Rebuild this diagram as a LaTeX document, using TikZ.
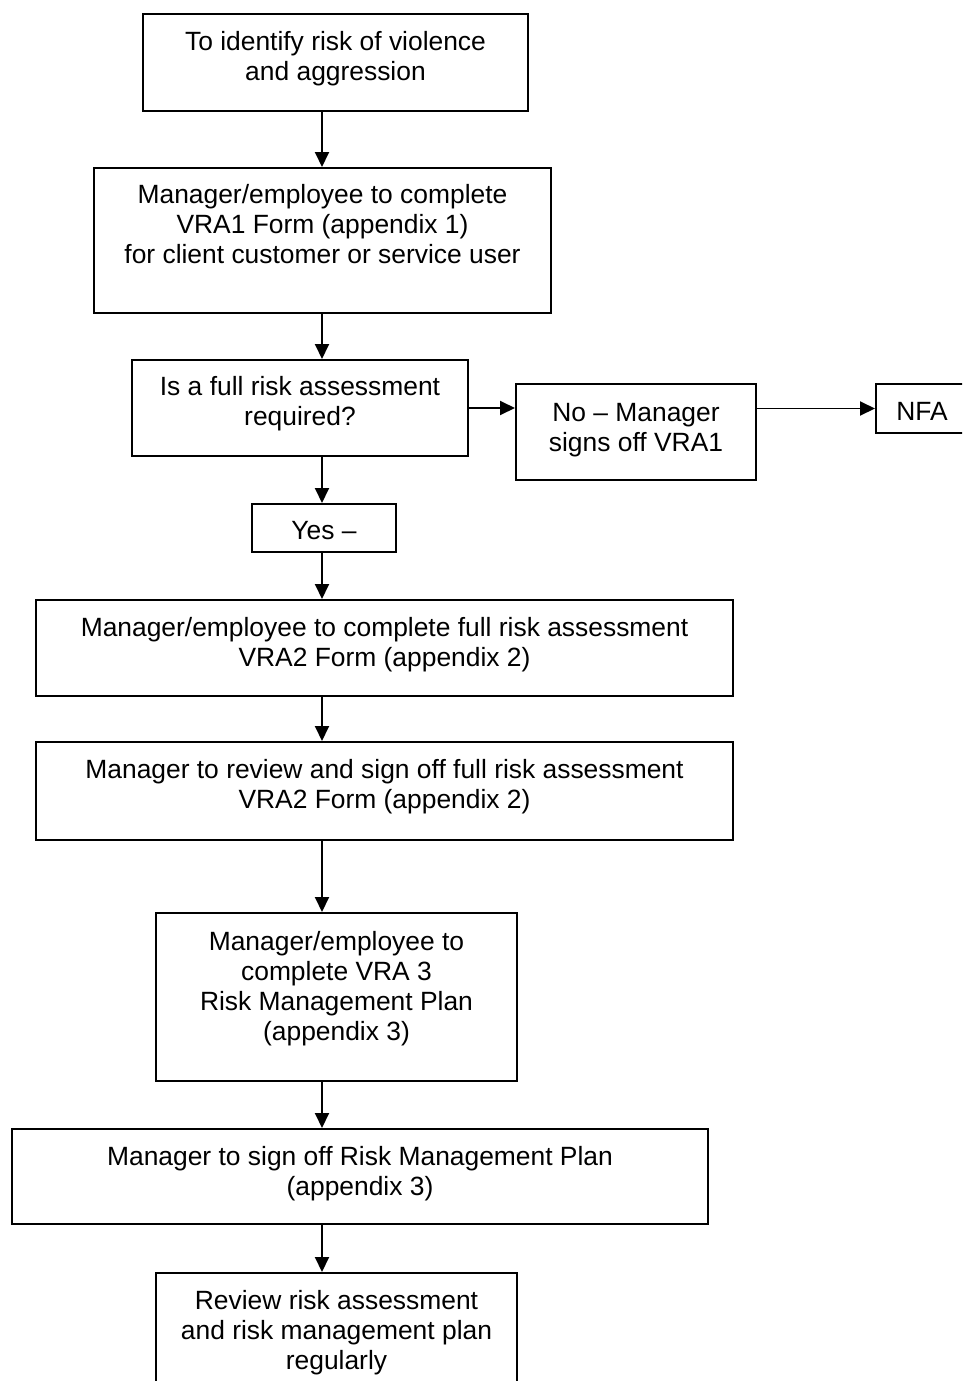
\documentclass[tikz,border=0pt]{standalone}
\usepackage{fontspec}
\setmainfont{Liberation Sans}
\usetikzlibrary{arrows.meta}
\tikzset{
  box/.style={draw, line width=2pt, inner sep=0pt, anchor=north west},
  txt/.style={anchor=north, align=center, inner sep=0pt, font=\fontsize{26.4pt}{30pt}\selectfont},
  arr/.style={line width=1.9pt, -{Triangle[length=15pt,width=14pt]}},
}
\newcommand\fl{\rule{0pt}{20pt}}
\begin{document}
\begin{tikzpicture}[x=1pt,y=-1pt]
\useasboundingbox (0,0) rectangle (962,1381);
\clip (0,0) rectangle (962,1381);
% boxes
\node[box, minimum width=385pt, minimum height=97pt]  (b1)  at (142,13)   {};
\node[box, minimum width=457pt, minimum height=145pt] (b2)  at (93,167)   {};
\node[box, minimum width=336pt, minimum height=96pt]  (b3)  at (131,359)  {};
\node[box, minimum width=240pt, minimum height=96pt]  (b4)  at (515,383)  {};
\node[box, minimum width=92pt,  minimum height=49pt]  (nfa) at (875,383)  {};
\node[box, minimum width=144pt, minimum height=48pt]  (yes) at (251,503)  {};
\node[box, minimum width=697pt, minimum height=96pt]  (b5)  at (35,599)   {};
\node[box, minimum width=697pt, minimum height=98pt]  (b6)  at (35,741)   {};
\node[box, minimum width=361pt, minimum height=168pt] (b7)  at (155,912)  {};
\node[box, minimum width=696pt, minimum height=95pt]  (b8)  at (11,1128)  {};
\node[box, minimum width=361pt, minimum height=150pt] (b9)  at (155,1272) {};
% texts
\node[txt] (t1)  at ([yshift=-17pt]b1.north)  {\fl To identify risk of violence\\and aggression};
\node[txt] (t2)  at ([yshift=-16pt]b2.north)  {\fl Manager/employee to complete\\VRA1 Form (appendix 1)\\for client customer or service user};
\node[txt] (t3)  at ([yshift=-16pt]b3.north)  {\fl Is a full risk assessment\\required?};
\node[txt] (t4)  at ([yshift=-18pt]b4.north)  {\fl No -- Manager\\signs off VRA1};
\node[txt] (tn)  at ([yshift=-17pt]nfa.north) {\fl NFA};
\node[txt] (ty)  at ([yshift=-16pt]yes.north) {\fl Yes --};
\node[txt] (t5)  at ([yshift=-17pt]b5.north)  {\fl Manager/employee to complete full risk assessment\\VRA2 Form (appendix 2)};
\node[txt] (t6)  at ([yshift=-17pt]b6.north)  {\fl Manager to review and sign off full risk assessment\\VRA2 Form (appendix 2)};
\node[txt] (t7)  at ([yshift=-18pt]b7.north)  {\fl Manager/employee to\\complete VRA 3\\Risk Management Plan\\(appendix 3)};
\node[txt] (t8)  at ([yshift=-17pt]b8.north)  {\fl Manager to sign off Risk Management Plan\\(appendix 3)};
\node[txt] (t9)  at ([yshift=-17pt]b9.north)  {\fl Review risk assessment\\and risk management plan\\regularly};
% connectors
\coordinate (ax) at (322,0);
\draw[arr] (b1.south -| ax) -- (b2.north -| ax);
\draw[arr] (b2.south -| ax) -- (b3.north -| ax);
\draw[arr] (b3.south -| ax) -- (yes.north -| ax);
\draw[arr] (yes.south -| ax) -- (b5.north -| ax);
\draw[arr] (b5.south -| ax) -- (b6.north -| ax);
\draw[arr] (b6.south -| ax) -- (b7.north -| ax);
\draw[arr] (b7.south -| ax) -- (b8.north -| ax);
\draw[arr] (b8.south -| ax) -- (b9.north -| ax);
\draw[arr] (b3.east) -- (b3.east -| b4.west);
\draw[arr] (b4.east |- nfa.west) -- (nfa.west);
\end{tikzpicture}
\end{document}
